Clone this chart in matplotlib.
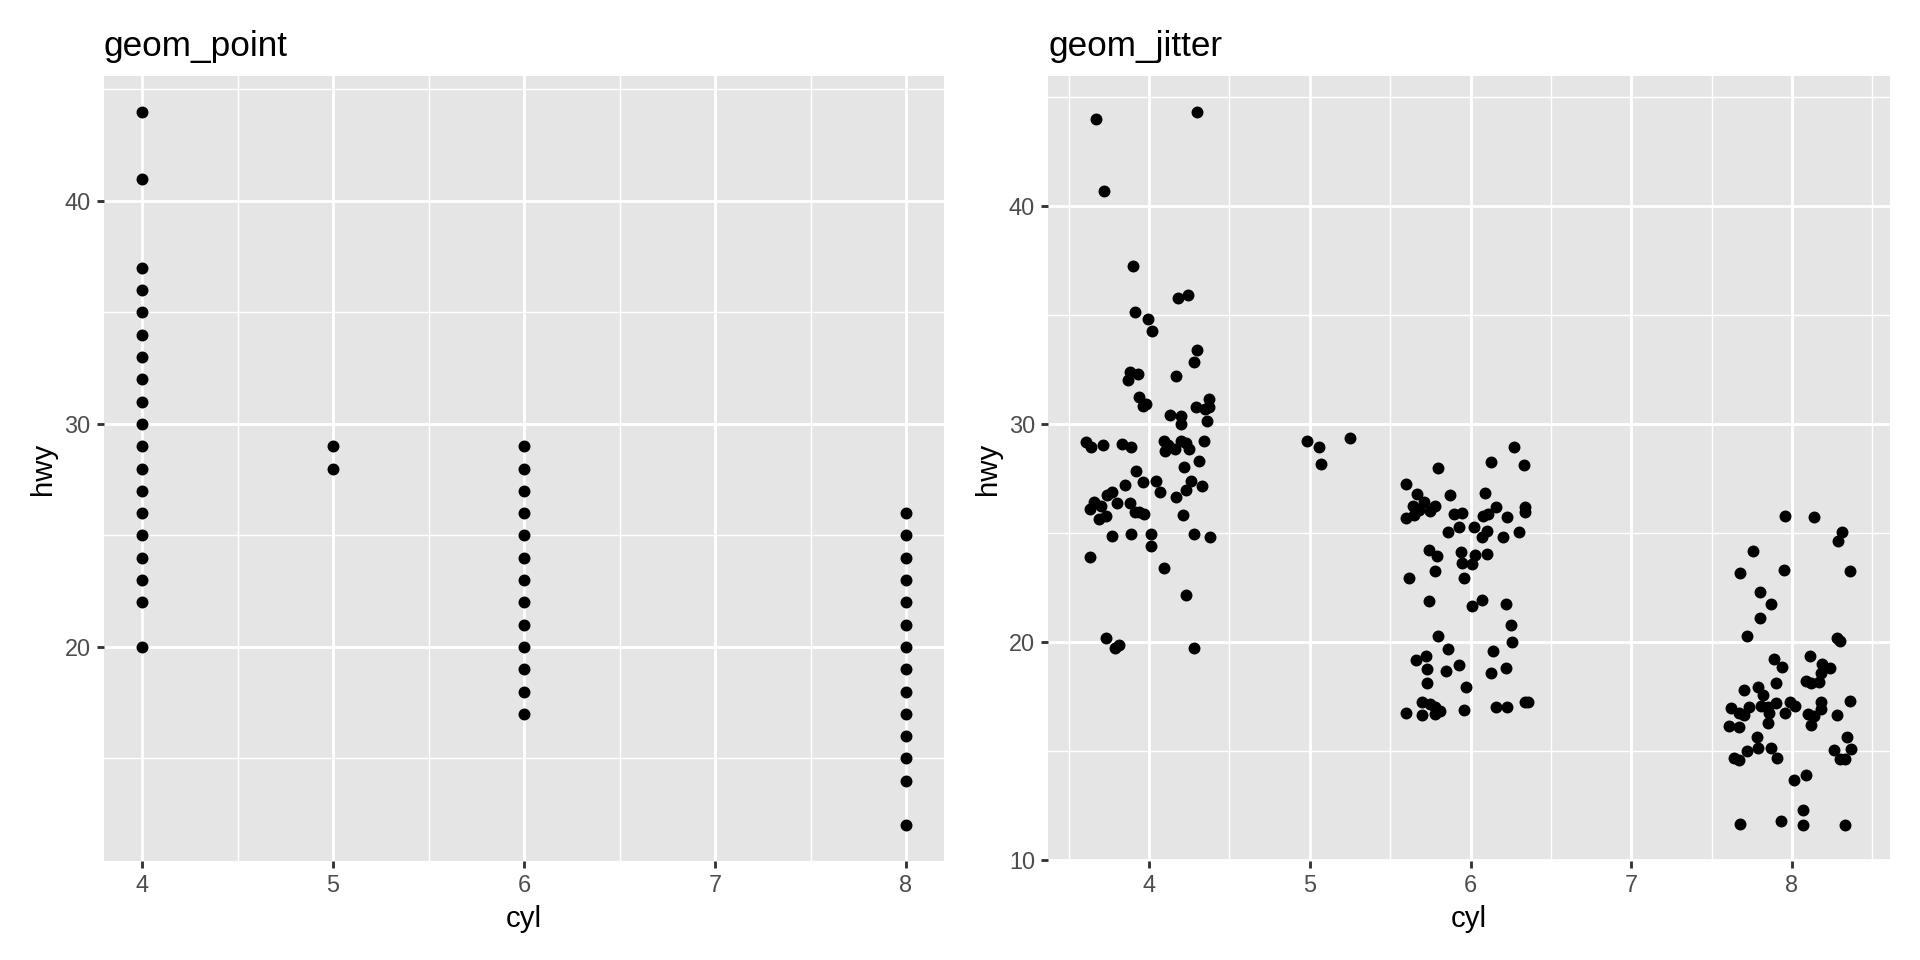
import matplotlib
matplotlib.use("Agg")
import matplotlib.pyplot as plt
from matplotlib.ticker import FixedLocator

plt.rcParams['font.family'] = ['Liberation Sans', 'DejaVu Sans']

# ---------------- data ----------------
# geom_point panel: distinct (cyl, hwy) pairs present in the data
cyl4_hwy = [20, 22, 23, 24, 25, 26, 27, 28, 29, 30, 31, 32, 33, 34, 35, 36, 37, 41, 44]
cyl5_hwy = [28, 29]
cyl6_hwy = [17, 18, 19, 20, 21, 22, 23, 24, 25, 26, 27, 28, 29]
cyl8_hwy = [12, 14, 15, 16, 17, 18, 19, 20, 21, 22, 23, 24, 25, 26]

# geom_jitter panel: jittered positions
jit4_x = [3.67, 4.30, 3.72, 3.90, 4.18, 4.24, 3.91, 3.99, 4.02, 4.30, 4.28, 3.88, 3.93, 3.87, 4.17,
          3.94, 3.98, 3.96, 4.37, 4.29, 4.37, 4.35, 4.13, 4.20, 4.20, 4.36, 3.61, 3.64, 3.71, 3.83,
          3.89, 4.09, 4.12, 4.10, 4.16, 4.20, 4.23, 4.25, 4.34, 4.31, 4.22, 3.92, 3.85, 3.96, 4.04,
          4.26, 4.33, 4.07, 4.23, 4.17, 3.77, 3.74, 3.66, 3.70, 3.63, 3.80, 3.88, 3.91, 3.97, 3.94,
          3.69, 3.73, 4.21, 3.77, 3.89, 4.01, 4.28, 4.38, 4.01, 3.63, 4.09, 4.23, 3.73, 3.79, 3.81,
          4.28]
jit4_y = [43.99, 44.33, 40.70, 37.26, 35.77, 35.92, 35.14, 34.82, 34.27, 33.39, 32.87, 32.39, 32.29,
          32.02, 32.20, 31.24, 30.94, 30.83, 31.17, 30.79, 30.79, 30.68, 30.43, 30.38, 30.01, 30.15,
          29.19, 28.94, 29.06, 29.08, 28.97, 29.21, 29.03, 28.76, 28.85, 29.21, 29.15, 28.88, 29.23,
          28.32, 28.04, 27.84, 27.20, 27.33, 27.40, 27.38, 27.17, 26.90, 26.99, 26.65, 26.87, 26.75,
          26.44, 26.23, 26.11, 26.38, 26.38, 25.99, 25.86, 25.95, 25.65, 25.77, 25.82, 24.89, 24.95,
          24.98, 24.95, 24.83, 24.40, 23.91, 23.38, 22.17, 20.20, 19.73, 19.85, 19.74]

jit5_x = [4.98, 5.06, 5.07, 5.25]
jit5_y = [29.23, 28.93, 28.15, 29.37]

jit6_x = [6.27, 6.13, 6.33, 5.80, 5.60, 5.67, 5.87, 6.09, 5.64, 5.71, 5.78, 5.75, 5.68, 5.65, 5.60,
          5.90, 5.95, 6.16, 6.11, 6.08, 6.23, 6.34, 6.34, 5.93, 5.86, 6.02, 6.10, 6.07, 6.20, 6.30,
          5.74, 5.79, 5.94, 6.03, 6.10, 5.95, 6.01, 5.62, 5.78, 5.96, 5.74, 6.01, 6.07, 6.22, 6.25,
          6.26, 5.80, 5.86, 6.14, 5.72, 5.66, 5.73, 5.85, 5.93, 6.13, 6.22, 5.73, 5.97, 5.70, 5.75,
          5.78, 5.81, 5.60, 5.70, 5.78, 5.96, 6.16, 6.23, 6.34, 6.36]
jit6_y = [28.96, 28.27, 28.13, 28.01, 27.25, 26.78, 26.76, 26.82, 26.26, 26.44, 26.24, 26.01, 26.06,
          25.83, 25.68, 25.86, 25.94, 26.21, 25.88, 25.80, 25.74, 26.18, 25.96, 25.29, 25.07, 25.26,
          25.10, 24.82, 24.82, 25.05, 24.24, 23.93, 24.15, 24.01, 24.06, 23.63, 23.60, 22.95, 23.25,
          22.95, 21.87, 21.66, 21.93, 21.76, 20.78, 20.02, 20.29, 19.70, 19.60, 19.37, 19.18, 18.77,
          18.70, 18.96, 18.60, 18.83, 18.12, 17.93, 17.27, 17.16, 17.04, 16.86, 16.74, 16.66, 16.69,
          16.89, 17.04, 17.01, 17.25, 17.25]

jit8_x = [7.96, 8.14, 8.31, 8.29, 7.76, 7.68, 7.95, 8.36, 7.80, 7.87, 7.80, 7.72, 8.28, 8.30, 7.89,
          7.94, 8.11, 8.19, 8.24, 8.18, 8.09, 8.12, 8.17, 7.90, 7.79, 7.70, 7.82, 7.62, 7.67, 7.73,
          7.70, 7.81, 7.85, 7.90, 7.86, 7.96, 7.99, 8.02, 8.18, 8.18, 8.10, 8.14, 8.36, 8.28, 7.61,
          7.67, 7.85, 8.12, 7.78, 7.79, 7.72, 7.87, 7.91, 7.64, 7.67, 8.34, 8.26, 8.37, 8.30, 8.33,
          8.01, 8.09, 8.07, 7.68, 7.93, 8.07, 8.33]
jit8_y = [25.78, 25.76, 25.05, 24.62, 24.18, 23.17, 23.30, 23.27, 22.31, 21.75, 21.11, 20.26, 20.18,
          20.07, 19.23, 18.85, 19.38, 19.00, 18.80, 18.60, 18.24, 18.15, 18.19, 18.12, 17.96, 17.81,
          17.58, 16.96, 16.76, 17.04, 16.66, 17.08, 17.04, 17.19, 16.74, 16.74, 17.27, 17.08, 17.25,
          16.92, 16.69, 16.61, 17.28, 16.66, 16.17, 16.13, 16.28, 16.20, 15.67, 15.16, 15.03, 15.16,
          14.71, 14.70, 14.59, 15.65, 15.06, 15.10, 14.65, 14.62, 13.69, 13.89, 12.28, 11.67, 11.79,
          11.61, 11.60]

x_major = [4, 5, 6, 7, 8]
titles = ["geom_point", "geom_jitter"]
x_label = "cyl"
y_label = "hwy"

# ---------------- styling ----------------
PANEL = "#E5E5E5"
TICKCOL = "#333333"
LABCOL = "#4D4D4D"
MAJ_LW = 1.07
MIN_LW = 0.53
PT_S = 20


def expand(vals, frac=0.05):
    lo, hi = min(vals), max(vals)
    r = hi - lo
    return lo - frac * r, hi + frac * r


def style(ax, xmaj, xmin, ymaj, ymin, title):
    ax.set_facecolor(PANEL)
    for s in ax.spines.values():
        s.set_visible(False)
    ax.xaxis.set_major_locator(FixedLocator(xmaj))
    ax.yaxis.set_major_locator(FixedLocator(ymaj))
    ax.xaxis.set_minor_locator(FixedLocator(xmin))
    ax.yaxis.set_minor_locator(FixedLocator(ymin))
    ax.grid(which='major', color='white', linewidth=MAJ_LW)
    ax.grid(which='minor', color='white', linewidth=MIN_LW)
    ax.set_axisbelow(True)
    ax.tick_params(which='major', length=2.75, width=MAJ_LW, color=TICKCOL,
                   labelsize=8.8, labelcolor=LABCOL, pad=2.2)
    ax.tick_params(which='minor', length=0, width=0)
    ax.set_xlabel(x_label, fontsize=11, color='black', labelpad=2.75)
    ax.set_ylabel(y_label, fontsize=11, color='black', labelpad=2.75)
    ax.set_title(title, loc='left', fontsize=13.2, color='black', pad=7.5)


fig = plt.figure(figsize=(10, 5), dpi=192)
fig.patch.set_facecolor('white')

ax1 = fig.add_axes([103.8 / 1920, 1 - 861 / 960, (944.2 - 103.8) / 1920, 785 / 960])
ax2 = fig.add_axes([1048.2 / 1920, 1 - 861 / 960, (1889.6 - 1048.2) / 1920, 785 / 960])

# left panel
groups = [(4, cyl4_hwy), (5, cyl5_hwy), (6, cyl6_hwy), (8, cyl8_hwy)]
px, py = [], []
for c, hw in groups:
    px += [c] * len(hw)
    py += hw
ax1.scatter(px, py, s=PT_S, color='black', linewidths=0, zorder=3)
ax1.set_xlim(*expand(px))
ax1.set_ylim(*expand(py))
style(ax1, x_major, [4.5, 5.5, 6.5, 7.5], [20, 30, 40], [15, 25, 35, 45], titles[0])

# right panel
jx = jit4_x + jit5_x + jit6_x + jit8_x
jy = jit4_y + jit5_y + jit6_y + jit8_y
ax2.scatter(jx, jy, s=PT_S, color='black', linewidths=0, zorder=3)
ax2.set_xlim(*expand(jx))
ax2.set_ylim(*expand(jy))
style(ax2, x_major, [3.5, 4.5, 5.5, 6.5, 7.5, 8.5], [10, 20, 30, 40], [15, 25, 35, 45], titles[1])

fig.savefig("out.png", dpi=192, facecolor='white')
